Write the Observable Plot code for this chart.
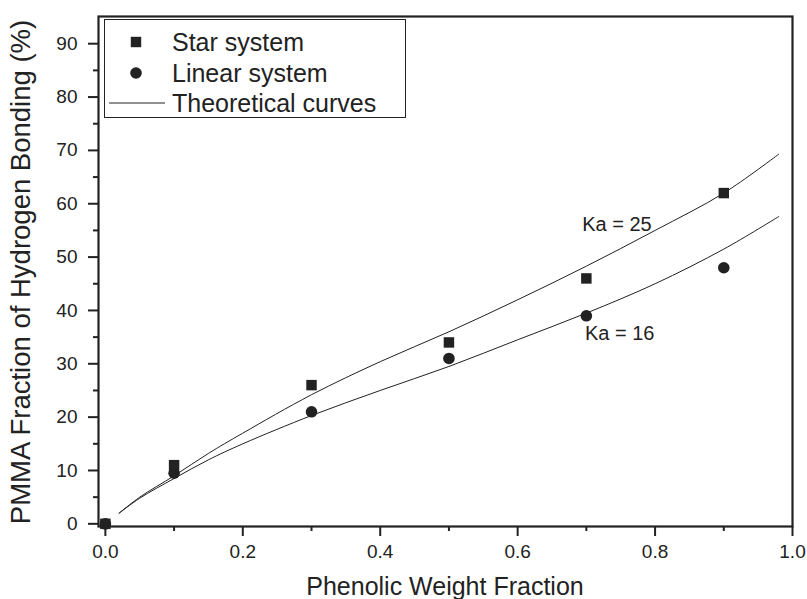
<!DOCTYPE html>
<html><head><meta charset="utf-8">
<script src="https://cdn.jsdelivr.net/npm/d3@7"></script>
<script src="https://cdn.jsdelivr.net/npm/@observablehq/plot@0.6"></script>
<style>
body{margin:0;background:#fff;font-family:"Liberation Sans",Arial,sans-serif;}
#wrap{position:relative;width:807px;height:599px;}
#legend{position:absolute;left:104px;top:19px;width:302px;height:99px;border:1px solid #222;background:#fff;box-sizing:border-box;}
#legend svg{position:absolute;left:0;top:0;}
</style></head><body>
<div id="wrap"><div id="legend"></div></div>
<script>
// Data
const starX = [0, 0.1, 0.3, 0.5, 0.7, 0.9];
const starY = [0, 11, 26, 34, 46, 62];
const linearX = [0, 0.1, 0.3, 0.5, 0.7, 0.9];
const linearY = [0, 9.5, 21, 31, 39, 48];
const curveX = [0.02, 0.05, 0.1, 0.15, 0.2, 0.3, 0.4, 0.5, 0.6, 0.7, 0.8, 0.9, 0.98];
const curveKa25 = [2, 5, 9, 13.2, 17, 24.2, 30.4, 36, 42, 48.3, 55, 62, 69.3];
const curveKa16 = [2, 4.8, 8.5, 12, 15, 20.3, 25, 29.5, 34.5, 39.5, 45, 51.5, 57.6];
const xTicks = [0, 0.2, 0.4, 0.6, 0.8, 1.0];
const xMinor = [0.1, 0.3, 0.5, 0.7, 0.9];
const yTicks = [0, 10, 20, 30, 40, 50, 60, 70, 80, 90];
const yMinor = [5, 15, 25, 35, 45, 55, 65, 75, 85];
const annotations = [{x: 0.694, y: 56.1, label: "Ka = 25"}, {x: 0.698, y: 35.6, label: "Ka = 16"}];
const legendItems = ["Star system", "Linear system", "Theoretical curves"];
const xLabel = "Phenolic Weight Fraction";
const yLabel = "PMMA Fraction of Hydrogen Bonding (%)";

const star = starX.map((x, i) => ({x, y: starY[i]}));
const linear = linearX.map((x, i) => ({x, y: linearY[i]}));
const c25 = curveX.map((x, i) => ({x, y: curveKa25[i]}));
const c16 = curveX.map((x, i) => ({x, y: curveKa16[i]}));
const ink = "#222";
const font = "Liberation Sans, Arial, sans-serif";

const chart = Plot.plot({
  width: 807, height: 599,
  marginLeft: 98, marginRight: 15, marginTop: 16, marginBottom: 73,
  style: {fontFamily: font, color: ink, background: "#fff"},
  x: {domain: [-0.01, 1.0]},
  y: {domain: [-0.5, 95.1]},
  marks: [
    Plot.line(c25, {x: "x", y: "y", curve: "catmull-rom", stroke: ink, strokeWidth: 1}),
    Plot.line(c16, {x: "x", y: "y", curve: "catmull-rom", stroke: ink, strokeWidth: 1}),
    Plot.dot(linear, {x: "x", y: "y", r: 5.8, fill: ink, stroke: "none"}),
    Plot.dot(star, {x: "x", y: "y", r: 5.9, symbol: "square", fill: ink, stroke: "none"}),
    Plot.text(annotations, {x: "x", y: "y", text: "label", textAnchor: "start", fontSize: 20, fill: ink}),
    Plot.axisX({ticks: xTicks, tickFormat: d3.format(".1f"), tickSize: 10, tickPadding: 8, fontSize: 19, label: null, strokeWidth: 2}),
    Plot.axisX({ticks: xMinor, tickFormat: () => "", tickSize: 5, label: null, strokeWidth: 2}),
    Plot.axisY({ticks: yTicks, tickFormat: d3.format("d"), tickSize: 10, tickPadding: 11, fontSize: 19, label: null, strokeWidth: 2}),
    Plot.axisY({ticks: yMinor, tickFormat: () => "", tickSize: 5, label: null, strokeWidth: 2}),
    Plot.frame({stroke: ink, strokeWidth: 2.2})
  ]
});
const wrap = document.getElementById("wrap");
wrap.insertBefore(chart, wrap.firstChild);

// Axis titles
const svg = d3.select(chart);
svg.append("text").attr("x", 445).attr("y", 595).attr("text-anchor", "middle")
  .attr("font-size", 25).attr("fill", ink).attr("font-family", font).text(xLabel);
svg.append("text").attr("transform", "translate(30,272) rotate(-90)").attr("text-anchor", "middle")
  .attr("font-size", 27.5).attr("fill", ink).attr("font-family", font).text(yLabel);

// Legend
const lg = d3.select("#legend").append("svg").attr("width", 302).attr("height", 99)
  .style("font-family", font);
const rows = [22, 53, 83];
lg.append("rect").attr("x", 31 - 5.2).attr("y", rows[0] - 5.2).attr("width", 10.4).attr("height", 10.4).attr("fill", ink);
lg.append("circle").attr("cx", 31).attr("cy", rows[1]).attr("r", 5.8).attr("fill", ink);
lg.append("line").attr("x1", 4).attr("x2", 60).attr("y1", rows[2]).attr("y2", rows[2]).attr("stroke", ink).attr("stroke-width", 1);
legendItems.forEach((t, i) => {
  lg.append("text").attr("x", 67).attr("y", rows[i]).attr("dy", "0.36em").attr("font-size", 25).attr("fill", ink).text(t);
});
</script>
</body></html>
